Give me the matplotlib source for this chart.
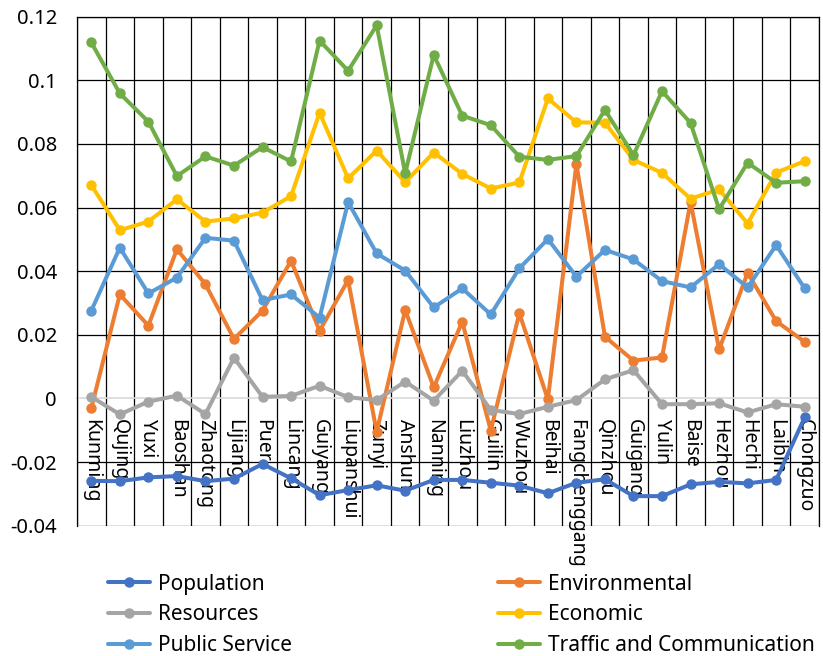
import matplotlib
matplotlib.use("Agg")
import matplotlib.pyplot as plt

plt.rcParams['font.family'] = ['Noto Sans', 'DejaVu Sans']

cities = ["Kunming", "Qujing", "Yuxi", "Baoshan", "Zhaotong", "Lijiang", "Puer",
          "Lincang", "Guiyang", "Liupanshui", "Zunyi", "Anshun", "Nanning", "Liuzhou",
          "Guilin", "Wuzhou", "Beihai", "Fangchenggang", "Qinzhou", "Guigang", "Yulin",
          "Baise", "Hezhou", "Hechi", "Laibin", "Chongzuo"]

population = [-0.0259, -0.0260, -0.0248, -0.0244, -0.0260, -0.0252, -0.0206, -0.0251,
              -0.0304, -0.0288, -0.0273, -0.0290, -0.0256, -0.0256, -0.0265, -0.0274,
              -0.0298, -0.0265, -0.0254, -0.0307, -0.0307, -0.0270, -0.0262, -0.0267,
              -0.0256, -0.0059]
environmental = [-0.0031, 0.0327, 0.0229, 0.0469, 0.0359, 0.0187, 0.0276, 0.0433,
                 0.0213, 0.0372, -0.0105, 0.0278, 0.0035, 0.0241, -0.0101, 0.0268,
                 -0.0003, 0.0737, 0.0194, 0.0119, 0.0129, 0.0618, 0.0154, 0.0395,
                 0.0243, 0.0178]
resources = [0.0005, -0.0050, -0.0010, 0.0009, -0.0049, 0.0128, 0.0005, 0.0008,
             0.0040, 0.0004, -0.0005, 0.0053, -0.0007, 0.0087, -0.0036, -0.0049,
             -0.0026, -0.0005, 0.0060, 0.0089, -0.0018, -0.0018, -0.0015, -0.0044,
             -0.0018, -0.0026]
economic = [0.0671, 0.0529, 0.0556, 0.0626, 0.0556, 0.0566, 0.0584, 0.0636,
            0.0898, 0.0692, 0.0779, 0.0680, 0.0773, 0.0706, 0.0660, 0.0679,
            0.0943, 0.0868, 0.0867, 0.0750, 0.0709, 0.0628, 0.0657, 0.0550,
            0.0710, 0.0746]
public_service = [0.0276, 0.0474, 0.0330, 0.0380, 0.0505, 0.0496, 0.0309, 0.0327,
                  0.0254, 0.0617, 0.0456, 0.0402, 0.0286, 0.0346, 0.0264, 0.0409,
                  0.0501, 0.0383, 0.0467, 0.0437, 0.0369, 0.0349, 0.0422, 0.0349,
                  0.0482, 0.0346]
traffic = [0.1119, 0.0959, 0.0870, 0.0699, 0.0761, 0.0732, 0.0790, 0.0745,
           0.1125, 0.1030, 0.1173, 0.0708, 0.1080, 0.0889, 0.0859, 0.0760,
           0.0750, 0.0762, 0.0907, 0.0765, 0.0966, 0.0866, 0.0595, 0.0741,
           0.0678, 0.0683]

series_names = ["Population", "Environmental", "Resources", "Economic",
                "Public Service", "Traffic and Communication"]
series_values = [population, environmental, resources, economic, public_service, traffic]
series_colors = ["#4472C4", "#ED7D31", "#A5A5A5", "#FFC000", "#5B9BD5", "#70AD47"]

y_ticks = [-0.04, -0.02, 0, 0.02, 0.04, 0.06, 0.08, 0.1, 0.12]
y_tick_labels = ["-0.04", "-0.02", "0", "0.02", "0.04", "0.06", "0.08", "0.1", "0.12"]

fig = plt.figure(figsize=(8.23, 6.56), dpi=100)
ax = fig.add_axes([0.0936, 0.1986, 0.9015, 0.7759])

x = list(range(len(cities)))
handles = {}
for name, vals, col in zip(series_names, series_values, series_colors):
    h, = ax.plot(x, vals, color=col, lw=2.9, marker='o', markersize=6.5,
                 solid_capstyle='round', solid_joinstyle='round', zorder=3)
    handles[name] = h

ax.set_xlim(-0.5, len(cities) - 0.5)
ax.set_ylim(-0.04, 0.12)

for b in range(len(cities) + 1):
    ax.axvline(b - 0.5, color='black', lw=0.9, zorder=1)
for t in y_ticks:
    if t != 0:
        ax.axhline(t, color='black', lw=0.9, zorder=1)

ax.set_yticks(y_ticks)
ax.set_yticklabels(y_tick_labels, fontsize=14.5)
ax.tick_params(axis='y', length=0, pad=14.5)

ax.spines['bottom'].set_position(('data', 0))
ax.spines['bottom'].set_color('#D9D9D9')
ax.spines['bottom'].set_linewidth(1.2)
ax.spines['bottom'].set_zorder(2)
for s in ['left', 'right', 'top']:
    ax.spines[s].set_color('black')
    ax.spines[s].set_linewidth(0.9)

ax.set_xticks(x)
ax.set_xticklabels(cities, rotation=-90, fontsize=14, va='top', ha='center')
ax.tick_params(axis='x', length=0, pad=15)

order = ["Population", "Resources", "Public Service",
         "Environmental", "Economic", "Traffic and Communication"]
fig.legend([handles[n] for n in order], order, ncol=2, loc='lower left',
           bbox_to_anchor=(0.1215, -0.013), frameon=False, fontsize=15,
           handlelength=2.0, handletextpad=0.38, columnspacing=9.9,
           labelspacing=0.47, borderaxespad=0)

fig.savefig("out.png", dpi=100)
